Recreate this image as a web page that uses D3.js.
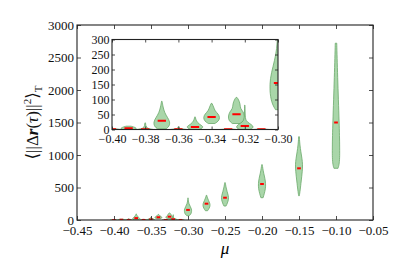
<!DOCTYPE html>
<html>
<head>
<meta charset="utf-8">
<script src="https://cdn.jsdelivr.net/npm/d3@7"></script>
<style>
  body { margin: 0; background: #fff; }
  svg { display: block; }
</style>
</head>
<body>
<svg id="chart" width="415" height="260"></svg>
<script>
// mu positions of the violins
const mu = [-0.40, -0.39, -0.38, -0.37, -0.36, -0.35, -0.34, -0.33, -0.325, -0.32, -0.31, -0.30, -0.275, -0.25, -0.20, -0.15, -0.10];
// medians
const medians = [0.5, 4, 1, 29, 1, 8, 42, 0.5, 51, 12, 0.5, 155, 251, 343, 554, 795, 1500];
// violin outlines: [value, relative half-width]
const shapes = [
  [[0, 1.0], [1, 0.8], [3, 0.2]],
  [[0, 0.7], [3, 1.0], [7, 0.8], [11, 0.3]],
  [[0, 1.0], [2, 0.6], [5, 0.1], [22, 0.04]],
  [[2, 0.5], [10, 0.9], [25, 1.0], [40, 0.7], [55, 0.35], [75, 0.15], [94, 0.03]],
  [[0, 1.0], [2, 0.4], [4, 0.08], [9, 0.04]],
  [[0, 0.5], [5, 0.9], [10, 1.0], [18, 0.5], [28, 0.15], [42, 0.03]],
  [[20, 0.4], [28, 0.85], [40, 1.0], [52, 0.8], [62, 0.4], [75, 0.25], [87, 0.05]],
  [[0, 1.0], [1, 0.5], [2, 0.1]],
  [[20, 0.5], [30, 0.95], [45, 1.0], [60, 0.8], [70, 0.45], [85, 0.45], [100, 0.25], [107, 0.05]],
  [[0, 0.6], [5, 1.0], [12, 1.0], [20, 0.6], [28, 0.1], [50, 0.04], [81, 0.02]],
  [[0, 1.0], [1, 0.5], [2, 0.1]],
  [[66, 0.3], [90, 0.8], [130, 1.0], [170, 0.95], [210, 0.6], [250, 0.25], [290, 0.08], [340, 0.03]],
  [[143, 0.3], [180, 0.75], [220, 1.0], [260, 0.9], [300, 0.55], [340, 0.25], [379, 0.08]],
  [[215, 0.3], [260, 0.65], [320, 1.0], [380, 0.9], [440, 0.55], [510, 0.25], [574, 0.08]],
  [[343, 0.3], [400, 0.6], [480, 0.95], [560, 1.0], [640, 0.8], [720, 0.45], [800, 0.2], [851, 0.08]],
  [[374, 0.1], [450, 0.3], [600, 0.6], [750, 0.9], [850, 1.0], [950, 0.8], [1050, 0.5], [1150, 0.25], [1282, 0.08]],
  [[795, 0.55], [850, 0.85], [950, 1.0], [1100, 1.0], [1300, 0.95], [1500, 0.85], [1850, 0.65], [2200, 0.45], [2500, 0.3], [2720, 0.2]]
];
const violinWidth = 0.01;

const xTicks = [-0.45, -0.40, -0.35, -0.30, -0.25, -0.20, -0.15, -0.10, -0.05];
const yTicks = [0, 500, 1000, 1500, 2000, 2500, 3000];
const insetXTicks = [-0.40, -0.38, -0.36, -0.34, -0.32, -0.30];
const insetYTicks = [0, 50, 100, 150, 200, 250, 300];

const svg = d3.select('#chart');
const serif = "'Liberation Serif', 'DejaVu Serif', serif";

function drawPanel(g, x, y, xt, yt, opts) {
  const [x0, x1] = x.range();
  const [y0, y1] = y.range();
  const id = opts.id;

  g.append('rect')
    .attr('x', x0).attr('y', y1).attr('width', x1 - x0).attr('height', y0 - y1)
    .attr('fill', '#fff');

  g.append('clipPath').attr('id', id)
    .append('rect')
    .attr('x', x0).attr('y', y1).attr('width', x1 - x0).attr('height', y0 - y1);

  const plot = g.append('g').attr('clip-path', `url(#${id})`);
  const hw = d => (x(violinWidth) - x(0)) / 2 * d;

  mu.forEach((m, i) => {
    const area = d3.area()
      .y(d => y(d[0]))
      .x0(d => x(m) - hw(d[1]))
      .x1(d => x(m) + hw(d[1]))
      .curve(d3.curveBasis);
    plot.append('path')
      .attr('d', area(shapes[i]))
      .attr('fill', '#a9d6a9')
      .attr('stroke', '#6aa86a')
      .attr('stroke-width', 0.8);
  });

  mu.forEach((m, i) => {
    plot.append('line')
      .attr('x1', x(m - violinWidth / 4)).attr('x2', x(m + violinWidth / 4))
      .attr('y1', y(medians[i])).attr('y2', y(medians[i]))
      .attr('stroke', '#ff0000')
      .attr('stroke-width', 2);
  });

  const ts = opts.tick;
  const bottom = g.append('g').attr('transform', `translate(0,${y0})`)
    .call(d3.axisBottom(x).tickValues(xt).tickSize(-ts).tickPadding(opts.xpad).tickFormat(d3.format('.2f')));
  const top = g.append('g').attr('transform', `translate(0,${y1})`)
    .call(d3.axisTop(x).tickValues(xt).tickSize(-ts).tickFormat(''));
  const left = g.append('g').attr('transform', `translate(${x0},0)`)
    .call(d3.axisLeft(y).tickValues(yt).tickSize(-ts).tickPadding(opts.ypad).tickFormat(d3.format('d')));
  const right = g.append('g').attr('transform', `translate(${x1},0)`)
    .call(d3.axisRight(y).tickValues(yt).tickSize(-ts).tickFormat(''));

  [bottom, top, left, right].forEach(a => {
    a.attr('font-family', null).attr('font-size', null);
    a.select('.domain').remove();
    a.selectAll('line').attr('stroke', '#222').attr('stroke-width', 0.8);
    a.selectAll('text')
      .style('font-family', serif).style('font-size', opts.fs + 'px')
      .attr('fill', '#111');
  });

  g.append('rect')
    .attr('x', x0).attr('y', y1).attr('width', x1 - x0).attr('height', y0 - y1)
    .attr('fill', 'none').attr('stroke', '#222').attr('stroke-width', 1.1);
}

// main axes
const x = d3.scaleLinear().domain([-0.45, -0.05]).range([77, 373]);
const y = d3.scaleLinear().domain([0, 3000]).range([220, 25]);
drawPanel(svg.append('g'), x, y, xTicks, yTicks, { id: 'clipMain', tick: 4, xpad: 6, ypad: 3, fs: 13 });

// inset axes
const xi = d3.scaleLinear().domain([-0.40, -0.30]).range([112, 278]);
const yi = d3.scaleLinear().domain([0, 300]).range([129.5, 39.5]);
drawPanel(svg.append('g'), xi, yi, insetXTicks, insetYTicks, { id: 'clipInset', tick: 3, xpad: 4.5, ypad: 2.5, fs: 12 });

// axis labels
svg.append('text')
  .attr('x', 225).attr('y', 254)
  .attr('text-anchor', 'middle')
  .style('font-family', serif).style('font-style', 'italic').style('font-size', '17px')
  .text('μ');

const yl = svg.append('text')
  .attr('transform', 'translate(38,122.5) rotate(-90)')
  .attr('text-anchor', 'middle')
  .style('font-family', serif).style('font-size', '17px').attr('fill', '#111');
yl.append('tspan').text('⟨||Δ');
yl.append('tspan').style('font-weight', 'bold').style('font-style', 'italic').text('r');
yl.append('tspan').text('(');
yl.append('tspan').style('font-style', 'italic').text('τ');
yl.append('tspan').text(')||');
yl.append('tspan').style('font-size', '11px').attr('dy', -7).text('2');
yl.append('tspan').attr('dy', 7).text('⟩');
yl.append('tspan').style('font-size', '11px').attr('dy', 4).text('T');
</script>
</body>
</html>
